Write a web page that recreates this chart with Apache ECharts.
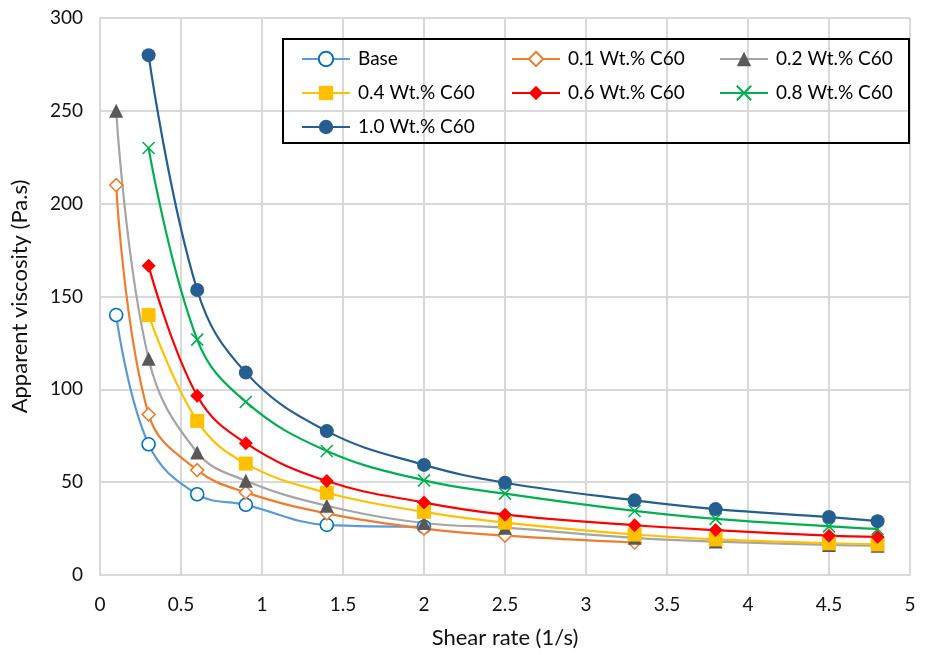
<!DOCTYPE html>
<html>
<head>
<meta charset="utf-8">
<script src="https://cdn.jsdelivr.net/npm/echarts@6/dist/echarts.min.js"></script>
<style>
  html, body { margin: 0; padding: 0; background: #fff; }
  #chart { width: 928px; height: 655px; }
</style>
</head>
<body>
<div id="chart"></div>
<script>
// Shear rates (1/s) at which viscosity was measured
const shearRate = [0.1, 0.3, 0.6, 0.9, 1.4, 2, 2.5, 3.3, 3.8, 4.5, 4.8];

// Apparent viscosity (Pa.s) for each sample
const baseX = [0.1, 0.3, 0.6, 0.9, 1.4, 2];
const baseVisc = [140, 70.4, 43.5, 37.8, 27, 26];

const wt01X = [0.1, 0.3, 0.6, 0.9, 1.4, 2, 2.5, 3.3];
const wt01Visc = [210, 86.5, 56.5, 44.5, 33.2, 25, 21.2, 17.5];

const wt02X = shearRate;
const wt02Visc = [250, 116.5, 66, 50.8, 37.3, 28, 25.5, 20, 18, 16.2, 15.8];

const restX = [0.3, 0.6, 0.9, 1.4, 2, 2.5, 3.3, 3.8, 4.5, 4.8];
const wt04Visc = [140, 83, 60, 44.3, 34, 28.2, 21.8, 19.2, 17.1, 16.5];
const wt06Visc = [166.5, 96.5, 71, 50.6, 39, 32.5, 26.8, 24.2, 21.2, 20.5];
const wt08Visc = [230, 126.8, 93.2, 66.8, 51, 43.8, 34.5, 30.2, 26.2, 24.8];
const wt10Visc = [280, 153.5, 109, 77.5, 59.3, 49.7, 40.2, 35.5, 31.2, 29];

const seriesNames = ['Base', '0.1 Wt.% C60', '0.2 Wt.% C60', '0.4 Wt.% C60',
                     '0.6 Wt.% C60', '0.8 Wt.% C60', '1.0 Wt.% C60'];

const yTicks = [0, 50, 100, 150, 200, 250, 300];
const xTicks = [0, 0.5, 1, 1.5, 2, 2.5, 3, 3.5, 4, 4.5, 5];

const FONT = "Lato, 'Liberation Sans', Arial, sans-serif";
const TEXT = '#111111';

function pairs(xs, ys) {
  return ys.map((v, i) => [xs[i], v]);
}

function makeSeries(name, xs, ys, lineColor, symbol, size, fill, stroke, strokeW) {
  return {
    name: name,
    type: 'line',
    data: pairs(xs, ys),
    smooth: 0.4,
    symbol: symbol,
    symbolSize: size,
    showAllSymbol: true,
    lineStyle: { color: lineColor, width: 2.2 },
    itemStyle: { color: fill, borderColor: stroke, borderWidth: strokeW },
    emphasis: { disabled: true },
    animation: false
  };
}

const crossPath = 'path://M0,0L10,10M0,10L10,0';

const series = [
  makeSeries(seriesNames[0], baseX, baseVisc, '#5B9BD5', 'circle', 13, '#ffffff', '#0070C0', 1.6),
  makeSeries(seriesNames[1], wt01X, wt01Visc, '#ED7D31', 'diamond', 13, '#ffffff', '#ED7D31', 1.5),
  makeSeries(seriesNames[2], wt02X, wt02Visc, '#A5A5A5', 'triangle', 14, '#595959', '#595959', 0),
  makeSeries(seriesNames[3], restX, wt04Visc, '#FFC000', 'rect', 14, '#FFC000', '#FFC000', 0),
  makeSeries(seriesNames[4], restX, wt06Visc, '#FF0000', 'diamond', 14, '#FF0000', '#FF0000', 0),
  makeSeries(seriesNames[5], restX, wt08Visc, '#00B050', crossPath, 12, '#00B050', '#00B050', 1.6),
  makeSeries(seriesNames[6], restX, wt10Visc, '#255E91', 'circle', 14, '#255E91', '#255E91', 0)
];

function legendCol(left, names) {
  return {
    orient: 'vertical',
    left: left,
    top: 44,
    itemWidth: 48,
    itemHeight: 18,
    itemGap: 14,
    data: names,
    textStyle: { fontFamily: FONT, fontSize: 19, color: '#000', lineHeight: 20, padding: [0, 0, 0, 3] },
    selectedMode: false
  };
}

const chart = echarts.init(document.getElementById('chart'), null, { renderer: 'canvas' });

chart.setOption({
  backgroundColor: '#ffffff',
  animation: false,
  grid: { left: 100, right: 18, top: 18, bottom: 80, containLabel: false },
  legend: [
    legendCol(296, [seriesNames[0], seriesNames[3], seriesNames[6]]),
    legendCol(506, [seriesNames[1], seriesNames[4]]),
    legendCol(714, [seriesNames[2], seriesNames[5]])
  ],
  graphic: [{
    type: 'rect',
    left: 282,
    top: 38,
    shape: { width: 626, height: 104 },
    style: { fill: 'rgba(0,0,0,0)', stroke: '#000', lineWidth: 2 },
    z: 10
  }],
  xAxis: {
    type: 'value',
    min: xTicks[0],
    max: xTicks[xTicks.length - 1],
    interval: 0.5,
    name: 'Shear rate (1/s)',
    nameLocation: 'middle',
    nameGap: 52,
    nameTextStyle: { fontFamily: FONT, fontSize: 22, color: TEXT },
    axisLine: { show: true, lineStyle: { color: '#D9D9D9', width: 2 } },
    axisTick: { show: false },
    axisLabel: { fontFamily: FONT, fontSize: 19, color: TEXT, margin: 20 },
    splitLine: { show: true, lineStyle: { color: '#D9D9D9', width: 2 } }
  },
  yAxis: {
    type: 'value',
    min: yTicks[0],
    max: yTicks[yTicks.length - 1],
    interval: 50,
    name: 'Apparent viscosity (Pa.s)',
    nameLocation: 'middle',
    nameGap: 69,
    nameTextStyle: { fontFamily: FONT, fontSize: 22, color: TEXT },
    axisLine: { show: true, lineStyle: { color: '#D9D9D9', width: 2 } },
    axisTick: { show: false },
    axisLabel: { fontFamily: FONT, fontSize: 19, color: TEXT, margin: 17 },
    splitLine: { show: true, lineStyle: { color: '#D9D9D9', width: 2 } }
  },
  series: series
});
</script>
</body>
</html>
